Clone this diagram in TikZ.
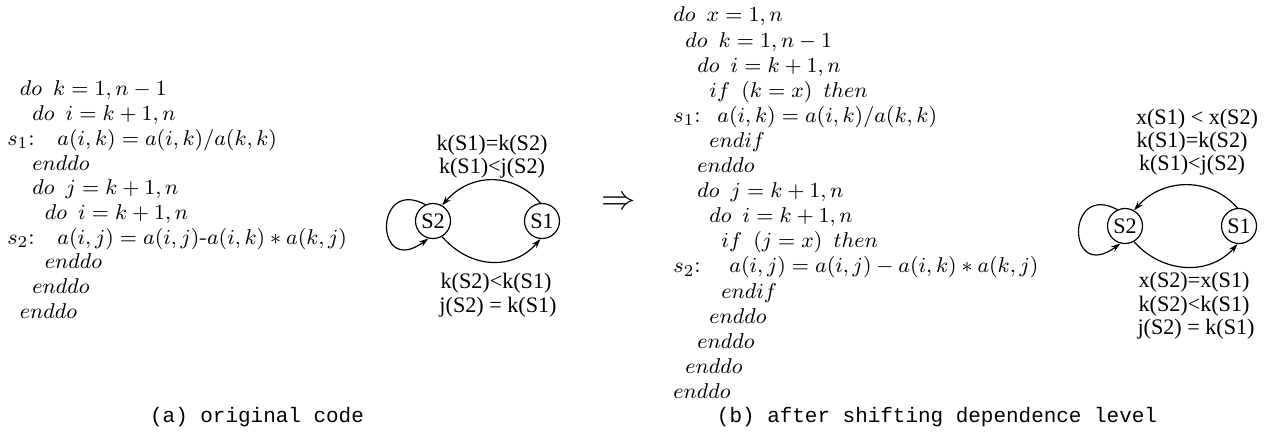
\documentclass[tikz,border=0pt]{standalone}
\usepackage{fontspec}
\newfontfamily\gfont{Liberation Serif}
\newfontfamily\capfont{Liberation Mono}
\usetikzlibrary{arrows.meta}
\begin{document}
\begin{tikzpicture}[x=0.42pt,y=-0.42pt,
  code/.style={anchor=west, inner sep=0pt, text height=7.5pt, text depth=2.5pt, font=\fontsize{9.5}{12}\selectfont},
  glab/.style={inner sep=0pt, font=\gfont\fontsize{9.3}{11}\selectfont},
  stmt/.style={circle, draw, line width=0.5pt, minimum size=14.7pt, inner sep=0pt, font=\gfont\fontsize{9.3}{11}\selectfont},
  dep/.style={line width=0.5pt, -{Stealth[length=4pt,width=2.6pt]}},
  capt/.style={inner sep=0pt, font=\capfont\fontsize{8.8}{10}\selectfont}]
\useasboundingbox (0,0) rectangle (1270,435);
% ---------- left code
\def\lb{7}\def\ls{12.5}\def\ly{90}\def\lsp{24.7}
\node[code] (l1) at (\lb+\ls,\ly) {$do\ \, k = 1, n-1$};
\node[code] (l2) at (\lb+2*\ls,\ly+\lsp) {$do\ \, i = k+1, n$};
\node[code] (l3a) at (\lb,\ly+2*\lsp) {$s_1${:}};
\node[code] (l3b) at (57,\ly+2*\lsp) {$a(i,k) = a(i,k)/a(k,k)$};
\node[code] (l4) at (\lb+2*\ls,\ly+3*\lsp) {$enddo$};
\node[code] (l5) at (\lb+2*\ls,\ly+4*\lsp) {$do\ \, j = k+1, n$};
\node[code] (l6) at (\lb+3*\ls,\ly+5*\lsp) {$do\ \, i = k+1, n$};
\node[code] (l7a) at (\lb,\ly+6*\lsp) {$s_2${:}};
\node[code] (l7b) at (57,\ly+6*\lsp) {$a(i,j) = a(i,j)\mbox{-}a(i,k) * a(k,j)$};
\node[code] (l8) at (\lb+3*\ls,\ly+7*\lsp) {$enddo$};
\node[code] (l9) at (\lb+2*\ls,\ly+8*\lsp) {$enddo$};
\node[code] (l10) at (\lb+\ls,\ly+9*\lsp) {$enddo$};
\node[capt] (capa) at (257,417) {(a) original code};
% ---------- graph 1
\node[stmt] (A2) at (433,221) {S2};
\node[stmt] (A1) at (542,221) {S1};
\node[glab] (at1) at (492,145) {k(S1)=k(S2)};
\node[glab] (at2) at (492,168) {k(S1)<j(S2)};
\node[glab] (ab1) at (496,283) {k(S2)<k(S1)};
\node[glab] (ab2) at (498,307) {j(S2) = k(S1)};
\draw[dep] (A1.95) .. controls +(-28,-32) and +(28,-32) .. (A2.60);
\draw[dep] (A2.-60) .. controls +(28,32) and +(-28,32) .. (A1.-95);
\draw[dep] (A2.115) .. controls +(-52,-28) and +(-54,40) .. (A2.255);
% ---------- arrow
\node[inner sep=0pt, font=\fontsize{14}{14}\selectfont] (impl) at (619,203) {$\Rightarrow$};
% ---------- right code
\def\rb{673}\def\rs{12}\def\ry{16}\def\rsp{25.1}
\node[code] (r1) at (\rb,\ry) {$do\ \, x = 1, n$};
\node[code] (r2) at (\rb+\rs,\ry+\rsp) {$do\ \, k = 1, n-1$};
\node[code] (r3) at (\rb+2*\rs,\ry+2*\rsp) {$do\ \, i = k+1, n$};
\node[code] (r4) at (\rb+3*\rs,\ry+3*\rsp) {$if\ \, (k = x)\ \, then$};
\node[code] (r5a) at (\rb,\ry+4*\rsp) {$s_1${:}};
\node[code] (r5b) at (717,\ry+4*\rsp) {$a(i,k) = a(i,k)/a(k,k)$};
\node[code] (r6) at (\rb+3*\rs,\ry+5*\rsp) {$endif$};
\node[code] (r7) at (\rb+2*\rs,\ry+6*\rsp) {$enddo$};
\node[code] (r8) at (\rb+2*\rs,\ry+7*\rsp) {$do\ \, j = k+1, n$};
\node[code] (r9) at (\rb+3*\rs,\ry+8*\rsp) {$do\ \, i = k+1, n$};
\node[code] (r10) at (\rb+4*\rs,\ry+9*\rsp) {$if\ \, (j = x)\ \, then$};
\node[code] (r11a) at (\rb,\ry+10*\rsp) {$s_2${:}};
\node[code] (r11b) at (729,\ry+10*\rsp) {$a(i,j) = a(i,j) - a(i,k) * a(k,j)$};
\node[code] (r12) at (\rb+4*\rs,\ry+11*\rsp) {$endif$};
\node[code] (r13) at (\rb+3*\rs,\ry+12*\rsp) {$enddo$};
\node[code] (r14) at (\rb+2*\rs,\ry+13*\rsp) {$enddo$};
\node[code] (r15) at (\rb+\rs,\ry+14*\rsp) {$enddo$};
\node[code] (r16) at (\rb,\ry+15*\rsp) {$enddo$};
\node[capt] (capb) at (937,417) {(b) after shifting dependence level};
% ---------- graph 2
\node[stmt] (B2) at (1125,226) {S2};
\node[stmt] (B1) at (1239,226) {S1};
\node[glab] (bt0) at (1197,119) {x(S1) < x(S2)};
\node[glab] (bt1) at (1192,142) {k(S1)=k(S2)};
\node[glab] (bt2) at (1192,165) {k(S1)<j(S2)};
\node[glab] (bb0) at (1194,282) {x(S2)=x(S1)};
\node[glab] (bb1) at (1194,306) {k(S2)<k(S1)};
\node[glab] (bb2) at (1196,329) {j(S2) = k(S1)};
\draw[dep] (B1.95) .. controls +(-28,-32) and +(28,-32) .. (B2.60);
\draw[dep] (B2.-60) .. controls +(28,32) and +(-28,32) .. (B1.-95);
\draw[dep] (B2.115) .. controls +(-52,-28) and +(-54,40) .. (B2.255);
\end{tikzpicture}
\end{document}
